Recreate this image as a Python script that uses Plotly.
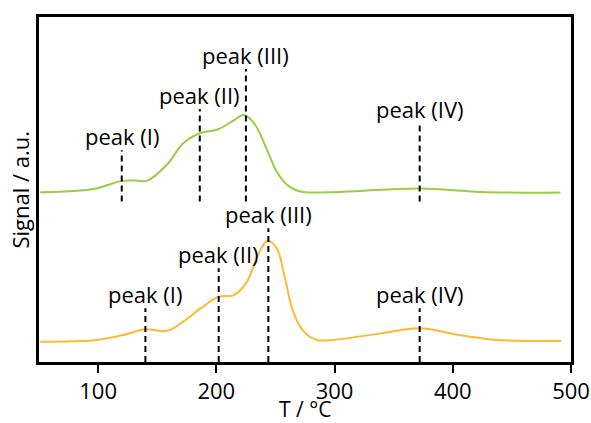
import plotly.graph_objects as go

# Temperature (°C) and signal (a.u.)
t_green = [51, 85, 102, 108, 120, 132, 141, 158, 172, 186, 201, 215, 223, 232, 243, 251, 260, 271, 296, 372, 423, 491]
s_green = [49.2, 49.7, 50.6, 51.3, 52.5, 52.6, 52.5, 57.1, 63.4, 66.3, 67.4, 70.1, 71.6, 69.2, 61.4, 55.2, 51.3, 49.4, 49.2, 50.3, 49.3, 49.1]

t_orange = [51, 99, 121, 140, 158, 172, 187, 202, 215, 226, 234, 243, 251, 258, 265, 274, 285, 299, 339, 372, 406, 437, 492]
s_orange = [5.9, 6.4, 7.8, 9.5, 9.0, 11.7, 15.6, 18.9, 19.4, 23.3, 30.1, 35.1, 33.0, 24.3, 14.6, 8.8, 6.4, 6.4, 8.3, 9.8, 7.8, 6.4, 6.1]

peak_labels = ["peak (I)", "peak (II)", "peak (III)", "peak (IV)"]
green_peak_t = [120, 186, 225, 372]
green_line_top = [61.4, 73.3, 84.9, 69.4]
green_line_bottom = 46.5
orange_peak_t = [140, 202, 244, 372]
orange_line_top = [15.6, 27.2, 38.8, 15.6]
orange_line_bottom = 0

x_ticks = [100, 200, 300, 400, 500]

GREEN = "#9BCD42"
ORANGE = "#FDBA35"
FONT = "Open Sans"
FS = 22

fig = go.Figure()
fig.add_trace(go.Scatter(x=t_green, y=s_green, mode="lines",
                         line=dict(color=GREEN, width=2, shape="spline", smoothing=1.0),
                         showlegend=False, hoverinfo="skip"))
fig.add_trace(go.Scatter(x=t_orange, y=s_orange, mode="lines",
                         line=dict(color=ORANGE, width=2, shape="spline", smoothing=1.0),
                         showlegend=False, hoverinfo="skip"))

for t, top in zip(green_peak_t, green_line_top):
    fig.add_trace(go.Scatter(x=[t, t], y=[green_line_bottom, top], mode="lines",
                             line=dict(color="black", width=2, dash="6px,4px"),
                             showlegend=False, hoverinfo="skip"))
for t, top in zip(orange_peak_t, orange_line_top):
    fig.add_trace(go.Scatter(x=[t, t], y=[orange_line_bottom, top], mode="lines",
                             line=dict(color="black", width=2, dash="6px,4px"),
                             showlegend=False, hoverinfo="skip"))

for lab, t, top in zip(peak_labels, green_peak_t, green_line_top):
    fig.add_annotation(x=t, y=top, text=lab, showarrow=False, yanchor="bottom",
                       xanchor="center", font=dict(family=FONT, size=FS, color="black"), yshift=-3)
for lab, t, top in zip(peak_labels, orange_peak_t, orange_line_top):
    fig.add_annotation(x=t, y=top, text=lab, showarrow=False, yanchor="bottom",
                       xanchor="center", font=dict(family=FONT, size=FS, color="black"), yshift=-3)

# axis titles
fig.add_annotation(x=0.5, y=0, xref="paper", yref="paper", text="T / °C", showarrow=False,
                   xanchor="center", yanchor="middle", yshift=-47, borderpad=0,
                   font=dict(family=FONT, size=21, color="black"))
fig.add_annotation(x=0, y=0.5, xref="paper", yref="paper", text="Signal / a.u.", showarrow=False,
                   xanchor="center", yanchor="middle", xshift=-20, textangle=-90,
                   font=dict(family=FONT, size=FS, color="black"))

fig.update_layout(
    width=591, height=423,
    margin=dict(l=39, r=20, t=17, b=61),
    paper_bgcolor="white", plot_bgcolor="white",
    font=dict(family=FONT, size=FS, color="black"),
)
fig.update_xaxes(range=[50, 500], tickvals=x_ticks, ticks="outside", ticklen=8, tickwidth=2,
                 tickcolor="black", showline=True, linewidth=3, linecolor="black", mirror=True,
                 showgrid=False, zeroline=False, automargin=False,
                 tickfont=dict(family=FONT, size=FS))
fig.update_yaxes(range=[0, 100], showticklabels=False, ticks="", showline=True, linewidth=3,
                 linecolor="black", mirror=True, showgrid=False, zeroline=False, automargin=False)

fig.write_html("out.html")
